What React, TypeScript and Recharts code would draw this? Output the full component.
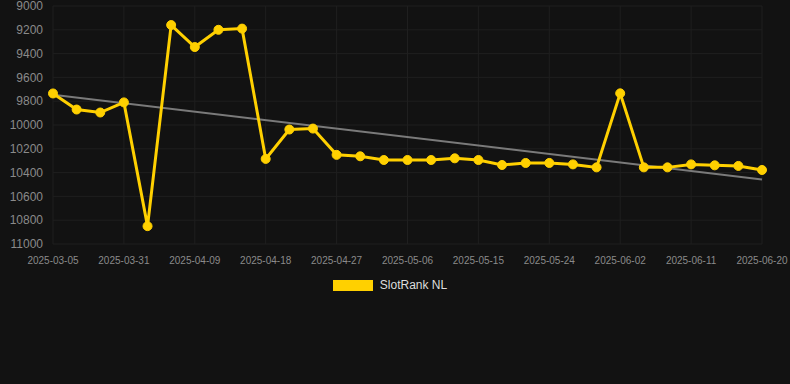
import React from "react";
import { LineChart, Line, XAxis, YAxis, CartesianGrid, Legend } from "recharts";

const dates = [
  "2025-03-05", "2025-03-13", "2025-03-22", "2025-03-31", "2025-04-03", "2025-04-06",
  "2025-04-09", "2025-04-12", "2025-04-15", "2025-04-18", "2025-04-21", "2025-04-24",
  "2025-04-27", "2025-04-30", "2025-05-03", "2025-05-06", "2025-05-09", "2025-05-12",
  "2025-05-15", "2025-05-18", "2025-05-21", "2025-05-24", "2025-05-27", "2025-05-30",
  "2025-06-02", "2025-06-05", "2025-06-08", "2025-06-11", "2025-06-14", "2025-06-17",
  "2025-06-20",
];

const slotRank = [
  9735, 9870, 9895, 9810, 10850, 9160, 9345, 9200, 9190, 10285, 10038, 10030,
  10251, 10263, 10294, 10294, 10294, 10280, 10294, 10336, 10319, 10319, 10331, 10356,
  9734, 10356, 10356, 10331, 10339, 10344, 10378,
];

const trendStart = 9745;
const trendEnd = 10457;

const yTicks = [9000, 9200, 9400, 9600, 9800, 10000, 10200, 10400, 10600, 10800, 11000];

const data = dates.map((d, i) => ({
  date: d,
  rank: slotRank[i],
  trend: i === 0 ? trendStart : i === dates.length - 1 ? trendEnd : null,
}));

const LegendContent = () => (
  <div style={{ display: "flex", justifyContent: "center", alignItems: "center", paddingRight: 10 }}>
    <div style={{ width: 40, height: 11, background: "#FFD000", marginRight: 7 }} />
    <span style={{ color: "#dddddd", fontSize: 12 }}>SlotRank NL</span>
  </div>
);

export default function App() {
  return (
    <div
      style={{
        position: "fixed",
        left: 0,
        top: 0,
        width: 790,
        height: 384,
        background: "#121212",
        fontFamily: "'Liberation Sans', Arial, Helvetica, sans-serif",
      }}
    >
      <LineChart
        width={790}
        height={384}
        data={data}
        margin={{ top: 6, right: 28, left: 0, bottom: 96 }}
      >
        <CartesianGrid stroke="#1f1f1f" strokeWidth={1} />
        <XAxis
          dataKey="date"
          interval={2}
          tickLine={false}
          axisLine={false}
          tickMargin={7}
          tick={{ fill: "#8a8a8a", fontSize: 10 }}
        />
        <YAxis
          width={53}
          reversed
          domain={[9000, 11000]}
          ticks={yTicks}
          tickLine={false}
          axisLine={false}
          tickMargin={4}
          interval={0}
          tick={{ fill: "#8a8a8a", fontSize: 12 }}
        />
        <Legend
          content={<LegendContent />}
          verticalAlign="bottom"
          wrapperStyle={{ top: 278, left: 0, width: 790 }}
        />
        <Line
          dataKey="trend"
          stroke="#7a7a7a"
          strokeWidth={2}
          dot={false}
          activeDot={false}
          connectNulls
          isAnimationActive={false}
          legendType="none"
        />
        <Line
          dataKey="rank"
          name="SlotRank NL"
          stroke="#FFD000"
          strokeWidth={3}
          dot={{ r: 4.5, fill: "#FFD000", stroke: "#FFD000", strokeWidth: 1 }}
          activeDot={false}
          isAnimationActive={false}
        />
      </LineChart>
    </div>
  );
}
